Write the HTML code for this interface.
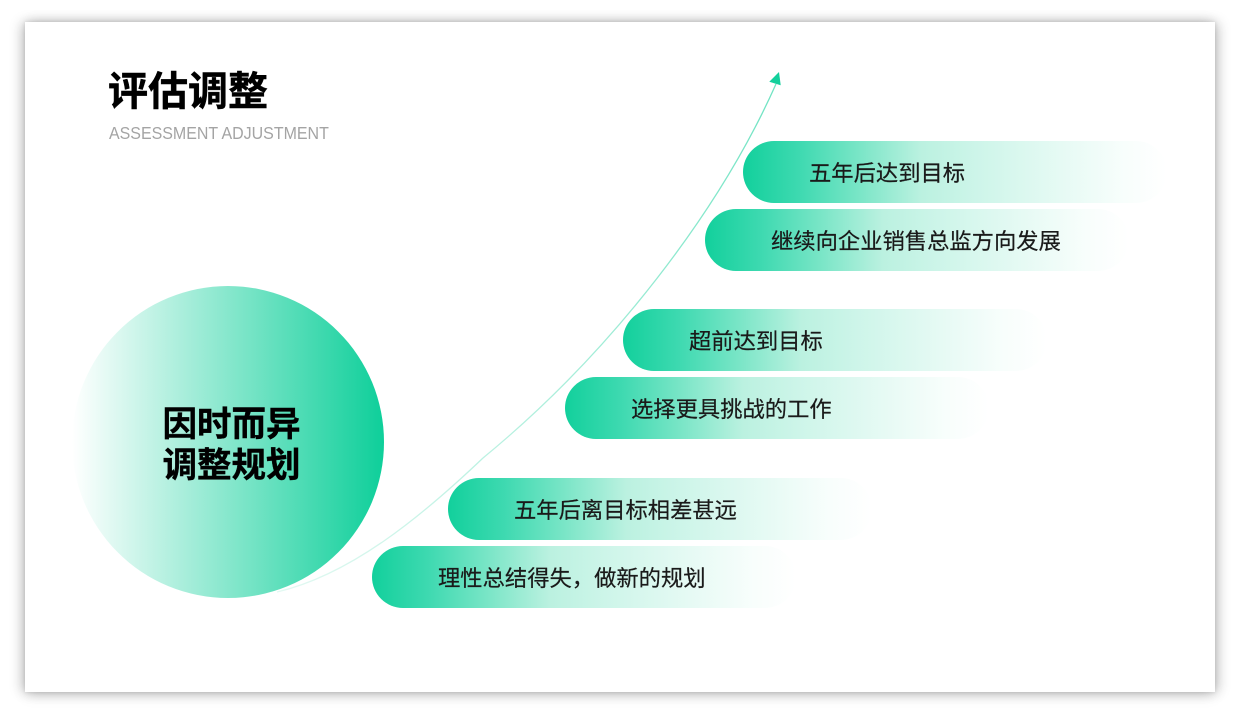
<!DOCTYPE html>
<html lang="zh">
<head>
<meta charset="utf-8">
<style>
html,body{margin:0;padding:0;background:#fff;}
body{width:1240px;height:714px;position:relative;overflow:hidden;font-family:"Liberation Sans","Noto Sans CJK SC",sans-serif;}
#slide{position:absolute;left:25px;top:22px;width:1190px;height:670px;background:#fff;box-shadow:-4px 0 12px rgba(0,0,0,.16),4px 0 12px rgba(0,0,0,.16),0 4px 14px rgba(0,0,0,.08),0 0 4px rgba(0,0,0,.1);}
.abs{position:absolute;white-space:nowrap;}
.pill{position:absolute;width:424px;height:62px;border-radius:31px;background:linear-gradient(90deg,#12d09c 0%,#3dd9b0 13%,#78e5c6 27%,#bbf1e0 42%,#cdf5e9 55%,#e6faf4 75%,#f8fefc 90%,#ffffff 100%);}
.pill span{position:absolute;left:66px;top:2px;line-height:62px;font-size:22.3px;color:#1a1a1a;white-space:nowrap;-webkit-text-stroke:.2px #1a1a1a;}
#circle{position:absolute;left:72px;top:286px;width:312px;height:312px;border-radius:50%;background:linear-gradient(90deg,#ffffff 0%,#0ecf9a 100%);}
#ctext{position:absolute;left:72px;top:405px;width:319px;text-align:center;font-size:34.5px;line-height:40.5px;font-weight:bold;color:#000;-webkit-text-stroke:.4px #000;}
svg{position:absolute;left:0;top:0;}
</style>
</head>
<body>
<div id="slide"></div>
<div class="abs" style="left:108px;top:66px;font-size:40px;line-height:52px;font-weight:bold;color:#000;-webkit-text-stroke:.5px #000;">评估调整</div>
<div class="abs" style="left:108.5px;top:122px;font-size:17.6px;line-height:22px;color:#a4a4a4;transform:scaleX(.908);transform-origin:0 0;">ASSESSMENT ADJUSTMENT</div>
<div id="circle"></div>
<div id="ctext">因时而异<br>调整规划</div>
<svg width="1240" height="714" viewBox="0 0 1240 714">
<defs><linearGradient id="g" gradientUnits="userSpaceOnUse" x1="280" y1="590" x2="776" y2="84"><stop offset="0" stop-color="#e2f9f2"/><stop offset="1" stop-color="#6fe3c2"/></linearGradient></defs>
<path d="M277 592 C350 575 420 518 483 458 C612 352 720 210 776 84" fill="none" stroke="url(#g)" stroke-width="1.3"/>
<polygon points="779,72 769.3,81.7 780.7,85.3" fill="#12d09c"/>
</svg>
<div class="pill" style="left:743px;top:141px;"><span>五年后达到目标</span></div>
<div class="pill" style="left:705px;top:209px;"><span>继续向企业销售总监方向发展</span></div>
<div class="pill" style="left:623px;top:309px;"><span>超前达到目标</span></div>
<div class="pill" style="left:565px;top:377px;"><span>选择更具挑战的工作</span></div>
<div class="pill" style="left:448px;top:478px;"><span>五年后离目标相差甚远</span></div>
<div class="pill" style="left:372px;top:546px;"><span>理性总结得失，做新的规划</span></div>
</body>
</html>
